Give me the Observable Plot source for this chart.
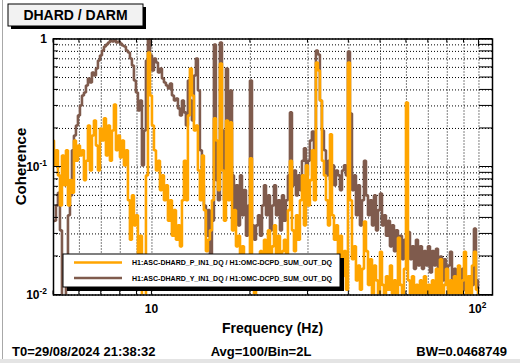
<!DOCTYPE html>
<html><head><meta charset="utf-8">
<script src="https://cdn.jsdelivr.net/npm/d3@7"></script>
<script src="https://cdn.jsdelivr.net/npm/@observablehq/plot@0.6"></script>
<style>
html,body{margin:0;padding:0;background:#fff;}
#wrap{position:relative;width:520px;height:363px;overflow:hidden;}
</style></head><body><div id="wrap"></div>
<script>
// Frequency bins (Hz)
const freq = [4.981,5.052,5.123,5.196,5.270,5.344,5.420,5.497,5.575,5.654,5.734,5.815,5.897,5.981,6.066,6.152,6.239,6.327,6.417,6.508,6.600,6.694,6.789,6.885,6.983,7.082,7.182,7.284,7.387,7.492,7.598,7.706,7.815,7.926,8.038,8.152,8.268,8.385,8.504,8.625,8.747,8.871,8.997,9.124,9.254,9.385,9.519,9.654,9.791,9.930,10.071,10.214,10.359,10.506,10.655,10.806,10.958,11.114,11.271,11.431,11.593,11.758,11.925,12.094,12.265,12.439,12.612,12.791,12.972,13.156,13.343,13.532,13.724,13.918,14.116,14.316,14.521,14.727,14.936,15.147,15.362,15.580,15.801,16.025,16.252,16.49,16.72,16.96,17.20,17.45,17.69,17.94,18.20,18.46,18.72,18.98,19.25,19.53,19.80,20.08,20.37,20.66,20.95,21.25,21.55,21.86,22.16,22.48,22.79,23.12,23.45,23.78,24.12,24.46,24.80,25.16,25.51,25.87,26.24,26.61,26.99,27.37,27.76,28.15,28.55,28.96,29.36,29.78,30.20,30.63,31.06,31.50,31.95,32.40,32.86,33.33,33.81,34.29,34.78,35.27,35.77,36.28,36.79,37.31,37.84,38.38,38.92,39.47,40.03,40.60,41.18,41.76,42.35,42.95,43.56,44.18,44.82,45.45,46.10,46.75,47.41,48.08,48.77,49.46,50.16,50.87,51.58,52.31,53.06,53.81,54.57,55.35,56.13,56.93,57.73,58.55,59.39,60.23,61.08,61.95,62.83,63.72,64.62,65.54,66.47,67.41,68.37,69.34,70.33,71.32,72.33,73.36,74.40,75.45,76.52,77.61,78.71,79.83,80.96,82.11,83.27,84.45,85.65,86.87,88.10,89.35,90.62,91.90,93.20,94.52,95.86,97.22,98.60,100.0];

// Coherence, H1:ASC-DHARD_P_IN1_DQ / H1:OMC-DCPD_SUM_OUT_DQ (orange)
const cohP = [0.161,0.103,0.135,0.086,0.050,0.123,0.072,0.135,0.050,0.079,
0.063,0.161,0.112,0.147,0.123,0.135,0.079,0.112,0.211,0.094,
0.176,0.231,0.147,0.094,0.200,0.161,0.240,0.123,0.211,0.112,
0.193,0.308,0.135,0.176,0.119,0.161,0.103,0.135,0.055,0.027,
0.060,0.035,0.042,0.019,0.029,0.009,0.009,0.086,0.784,0.362,
0.211,0.135,0.094,0.112,0.066,
0.086,0.055,0.072,0.038,0.055,
0.029,0.046,0.027,0.035,0.024,
0.055,0.112,0.055,0.253,0.588,
0.362,0.193,0.211,0.094,0.055,
0.123,0.046,0.022,0.027,0.032,
0.055,0.240,0.161,0.066,0.644,
0.094,0.038,0.231,0.055,0.223,
0.032,0.046,0.024,0.029,0.020,
0.024,0.016,0.019,0.011,0.117,
0.013,0.009,0.020,0.016,0.022,
0.012,0.027,0.017,0.032,0.016,
0.024,0.035,0.019,0.029,0.013,
0.022,0.027,0.017,0.046,0.112,
0.032,0.022,0.042,0.027,0.055,
0.086,0.035,0.103,0.050,0.079,
0.135,0.055,0.655,0.567,0.331,
0.112,0.086,0.055,0.035,0.180,
0.042,0.027,0.035,0.019,0.029,
0.014,0.022,0.011,0.655,0.055,
0.019,0.024,0.013,0.017,0.011,
0.016,0.0375,0.022,0.012,0.019,
0.009,0.017,0.013,0.009,0.0218,
0.012,0.009,0.014,0.011,0.017,
0.009,0.013,0.009,0.028,0.012,
0.009,0.016,0.319,0.013,0.009,
0.014,0.009,0.012,0.009,0.013,
0.009,0.014,0.009,0.012,0.009,
0.013,0.009,0.016,0.009,0.019,
0.009,0.012,0.016,0.009,0.013,
0.009,0.014,0.009,0.017,0.009,
0.013,0.0218,0.009,0.014,0.009,
0.017,0.0218,0.011,0.009];

// Coherence, H1:ASC-DHARD_Y_IN1_DQ / H1:OMC-DCPD_SUM_OUT_DQ (brown)
const cohY = [0.0375,0.038,0.050,0.063,0.032,0.009,0.009,0.019,0.042,0.060,
0.135,0.176,0.211,0.253,0.302,0.362,0.382,0.433,0.491,0.457,
0.547,0.519,0.588,0.679,0.743,0.813,0.874,0.906,0.939,0.973,
0.956,0.973,0.939,0.956,0.922,0.89,0.874,0.813,0.784,0.704,
0.62,0.474,0.382,0.276,0.331,0.103,0.193,0.679,1.0,0.743,
0.567,0.704,0.655,0.547,0.588,
0.491,0.457,0.433,0.41,0.449,
0.362,0.331,0.343,0.287,0.253,
0.331,0.267,0.211,0.474,0.331,
0.231,0.519,0.704,0.396,0.135,
0.072,0.050,0.029,0.046,0.020,
0.038,0.906,0.079,0.055,0.939,
0.193,0.055,0.588,0.135,0.396,
0.086,0.046,0.072,0.035,0.086,
0.042,0.066,0.029,0.050,0.474,
0.035,0.027,0.035,0.042,0.029,
0.050,0.072,0.042,0.060,0.032,
0.050,0.072,0.042,0.055,0.032,
0.060,0.038,0.055,0.086,0.267,
0.072,0.094,0.060,0.086,0.066,
0.112,0.140,0.086,0.112,0.161,
0.189,0.103,0.813,0.757,0.331,
0.193,0.135,0.086,0.112,0.079,
0.103,0.072,0.094,0.086,0.066,
0.094,0.103,0.086,0.799,0.262,
0.066,0.086,0.042,0.072,0.035,
0.055,0.112,0.060,0.042,0.055,
0.035,0.060,0.032,0.046,0.062,
0.035,0.042,0.029,0.038,0.024,
0.035,0.022,0.032,0.020,0.029,
0.019,0.027,0.022,0.031,0.019,
0.024,0.016,0.027,0.017,0.024,
0.016,0.022,0.017,0.024,0.015,
0.022,0.017,0.023,0.014,0.020,
0.013,0.019,0.012,0.017,0.0218,
0.012,0.016,0.011,0.014,0.0113,
0.016,0.011,0.013,0.0105,0.014,
0.012,0.033,0.013,0.011];

const xGrid = [5,6,7,8,9,10,20,30,40,50,60,70,80,90,100];
const xMajor = [10,100];
const yGrid = [0.01,0.02,0.03,0.04,0.05,0.06,0.07,0.08,0.09,0.1,0.2,0.3,0.4,0.5,0.6,0.7,0.8,0.9,1];
const yMajor = [0.01,0.1,1];
const xTickLabels = [{v:10, base:"10", exp:""},{v:100, base:"10", exp:"2"}];
const yTickLabels = [{v:1, base:"1", exp:""},{v:0.1, base:"10", exp:"-1"},{v:0.01, base:"10", exp:"-2"}];
const seriesNames = ["H1:ASC-DHARD_P_IN1_DQ / H1:OMC-DCPD_SUM_OUT_DQ","H1:ASC-DHARD_Y_IN1_DQ / H1:OMC-DCPD_SUM_OUT_DQ"];
const seriesColors = ["#ffa500","#7f5b4d"];
const titleText = "DHARD / DARM";
const xTitle = "Frequency (Hz)";
const yTitle = "Coherence";
const footer = ["T0=29/08/2024 21:38:32","Avg=100/Bin=2L","BW=0.0468749"];

const rowsP = freq.map((f,i)=>({f, c:cohP[i]}));
const rowsY = freq.map((f,i)=>({f, c:cohY[i]}));

const FONT = "'Liberation Sans', Arial, Helvetica, sans-serif";

const plot = Plot.plot({
  width:520, height:363,
  marginLeft:53, marginRight:28, marginTop:38.5, marginBottom:68.5,
  x:{type:"log", domain:[5,110], axis:null},
  y:{type:"log", domain:[0.01,1], axis:null},
  style:{background:"#fff", fontFamily:FONT, overflow:"visible"},
  marks:[
    Plot.ruleX(xGrid,{stroke:"#000", strokeWidth:1, strokeDasharray:"1,2"}),
    Plot.ruleY(yGrid,{stroke:"#000", strokeWidth:1, strokeDasharray:"1,2"}),
    Plot.line(rowsY,{x:"f", y:"c", stroke:seriesColors[1], strokeWidth:2.6, strokeLinejoin:"miter", strokeLinecap:"butt", curve:"step", clip:true}),
    Plot.line(rowsP,{x:"f", y:"c", stroke:seriesColors[0], strokeWidth:2.6, strokeLinejoin:"miter", strokeLinecap:"butt", curve:"step", clip:true}),
    Plot.frame({stroke:"#000", strokeWidth:1.5})
  ]
});
document.getElementById("wrap").appendChild(plot);

const svg = d3.select(plot);
const sx = plot.scale("x"), sy = plot.scale("y");
const X = v => sx.apply(v), Y = v => sy.apply(v);
const L = X(5), R = X(110), T = Y(1), B = Y(0.01);

// window border
svg.append("rect").attr("x",2).attr("y",0).attr("width",1).attr("height",363).attr("fill","#a8a8a8");
svg.append("rect").attr("x",0).attr("y",359).attr("width",520).attr("height",4).attr("fill","#e4e4e4");

// axis ticks
const tg = svg.append("g").attr("stroke","#000").attr("stroke-width",1);
yGrid.forEach(v=>{
  const y = Y(v);
  tg.append("line").attr("x1",R).attr("x2",R-13).attr("y1",y).attr("y2",y);
  tg.append("line").attr("x1",L).attr("x2",L+(yMajor.includes(v)?8:5)).attr("y1",y).attr("y2",y);
});
xGrid.forEach(v=>{
  const x = X(v), len = xMajor.includes(v)?8:4;
  tg.append("line").attr("x1",x).attr("x2",x).attr("y1",T).attr("y2",T+len);
  tg.append("line").attr("x1",x).attr("x2",x).attr("y1",B).attr("y2",B-len);
});

function txt(x,y,s,size,anchor){
  return svg.append("text").attr("x",x).attr("y",y).attr("text-anchor",anchor||"start")
    .attr("font-family",FONT).attr("font-weight","bold").attr("font-size",size).attr("fill","#000").text(s);
}
function label(x,y,base,exp,anchor,size){
  const t = svg.append("text").attr("x",x).attr("y",y).attr("text-anchor",anchor)
    .attr("font-family",FONT).attr("font-weight","bold").attr("font-size",size).attr("fill","#000");
  t.append("tspan").text(base);
  if(exp) t.append("tspan").attr("font-size",size*0.7).attr("dy",-5).text(exp);
  return t;
}
xTickLabels.forEach(d=>label(X(d.v)+(d.exp?-1:0), 313, d.base, d.exp, "middle", 12));
yTickLabels.forEach(d=>label(47, Y(d.v)+4.5, d.base, d.exp, "end", 12));

// axis titles
txt((L+R)/2, 333, xTitle, 14, "middle");
txt(0, 0, yTitle, 15, "middle").attr("transform",`translate(25.5,${(T+B)/2}) rotate(-90)`);

// title box
svg.append("rect").attr("x",11).attr("y",7).attr("width",135).attr("height",22).attr("fill","#000");
svg.append("rect").attr("x",8).attr("y",4).attr("width",135).attr("height",22).attr("fill","#f2f2f2").attr("stroke","#000").attr("stroke-width",1);
txt(75.5, 20, titleText, 14, "middle");

// legend
svg.append("rect").attr("x",67).attr("y",258).attr("width",277).attr("height",33).attr("fill","#000");
svg.append("rect").attr("x",63).attr("y",254).attr("width",277).attr("height",33).attr("fill","#fff").attr("stroke","#000").attr("stroke-width",1);
[262.5, 278].forEach((y,i)=>{
  svg.append("line").attr("x1",74).attr("x2",122).attr("y1",y).attr("y2",y).attr("stroke",seriesColors[i]).attr("stroke-width",2.5);
  txt(132, y+2.5, seriesNames[i], 7.2, "start").attr("textLength",200).attr("lengthAdjust","spacingAndGlyphs");
});

// footer
txt(12, 356, footer[0], 13, "start");
txt(261, 356, footer[1], 13, "middle");
txt(507, 356, footer[2], 13, "end");
</script>
</body></html>
